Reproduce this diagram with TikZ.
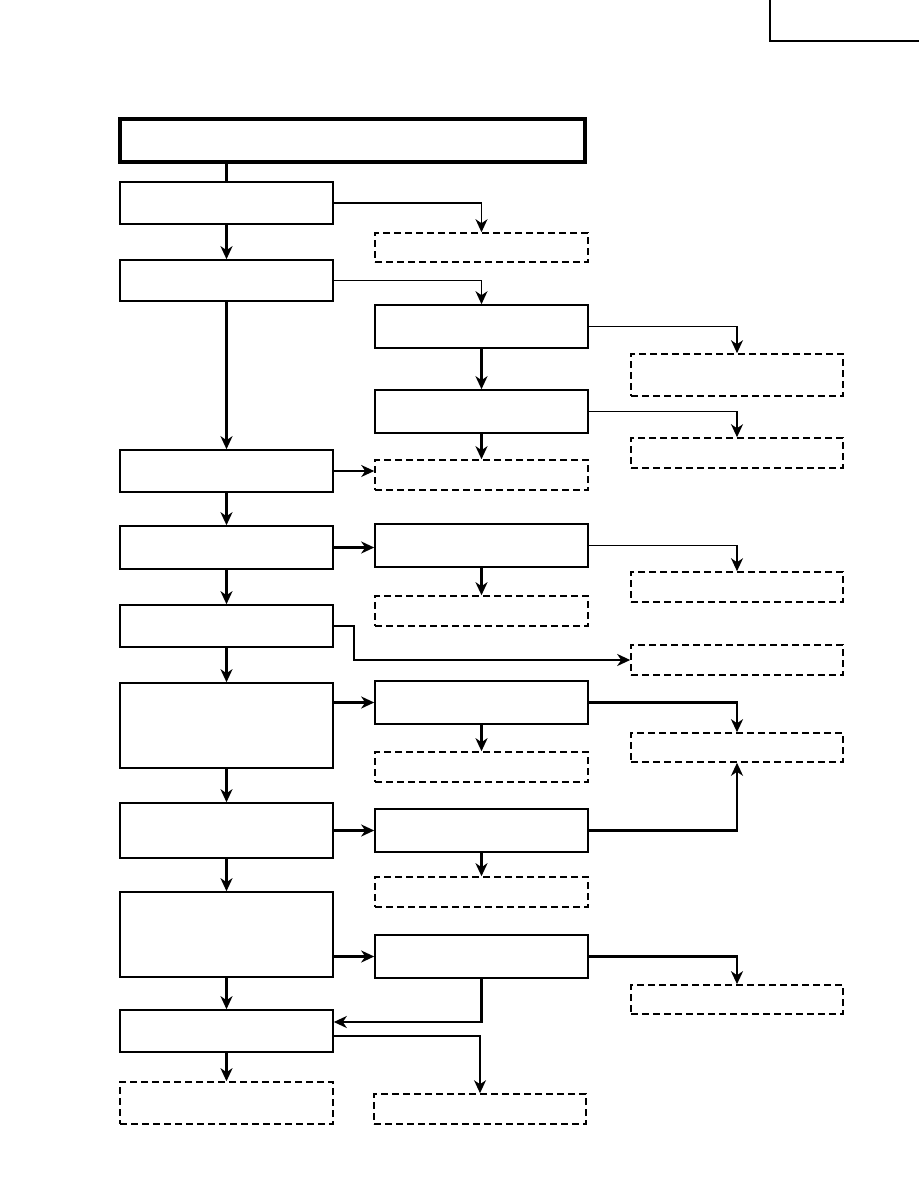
\documentclass[tikz,border=0pt]{standalone}
\usepackage{tikz}
\usetikzlibrary{arrows.meta, positioning, calc}
\tikzstyle{stepbox} = [rectangle, minimum width=213pt, inner sep=0pt, draw=black, line width=1.6pt]
\tikzstyle{notebox} = [rectangle, minimum width=212pt, inner sep=0pt, draw=black, line width=1.6pt,
                       dash pattern=on 7pt off 4pt]
\tikzstyle{titlebox} = [rectangle, minimum width=465pt, minimum height=43pt, inner sep=0pt, draw=black, line width=3.4pt]
\tikzstyle{arrow} = [-{Stealth[length=13pt, width=12pt, inset=4pt]}, line width=2.2pt]
\tikzstyle{thinarrow} = [-{Stealth[length=13pt, width=12pt, inset=4pt]}, line width=1.3pt]

\begin{document}
\begin{tikzpicture}[x=1pt, y=-1pt]
\useasboundingbox (0,0) rectangle (918,1188);

% Page corner
\node[rectangle, minimum width=150pt, minimum height=46pt, draw=black, line width=1.8pt] (pageref) at (845,18) {};

% Title
\node[titlebox] (title) at (352.5,140.5) {};

% Left column
\node[stepbox, minimum height=42pt] (L1) at (226.5,203) {};
\node[stepbox, minimum height=41pt] (L2) at (226.5,280.5) {};
\node[stepbox, minimum height=42pt] (L3) at (226.5,471) {};
\node[stepbox, minimum height=43pt] (L4) at (226.5,547.5) {};
\node[stepbox, minimum height=42pt] (L5) at (226.5,626) {};
\node[stepbox, minimum height=85pt] (L6) at (226.5,725.5) {};
\node[stepbox, minimum height=55pt] (L7) at (226.5,830.5) {};
\node[stepbox, minimum height=85pt] (L8) at (226.5,934.5) {};
\node[stepbox, minimum height=42pt] (L9) at (226.5,1031) {};
\node[notebox, minimum height=42pt, minimum width=213pt] (L10) at (226.5,1103) {};

% Middle column
\node[notebox, minimum height=29pt, minimum width=213pt] (M1) at (481.5,247.5) {};
\node[stepbox, minimum height=43pt] (M2) at (481.5,326.5) {};
\node[stepbox, minimum height=43pt] (M3) at (481.5,411.5) {};
\node[notebox, minimum height=30pt, minimum width=213pt] (M4) at (481.5,475) {};
\node[stepbox, minimum height=43pt] (M5) at (481.5,545.5) {};
\node[notebox, minimum height=30pt, minimum width=213pt] (M6) at (481.5,611) {};
\node[stepbox, minimum height=43pt] (M7) at (481.5,702.5) {};
\node[notebox, minimum height=30pt, minimum width=213pt] (M8) at (481.5,767) {};
\node[stepbox, minimum height=43pt] (M9) at (481.5,830.5) {};
\node[notebox, minimum height=30pt, minimum width=213pt] (M10) at (481.5,892) {};
\node[stepbox, minimum height=43pt] (M11) at (481.5,956.5) {};
\node[notebox, minimum height=30pt] (M12) at (480,1109) {};

% Right column
\node[notebox, minimum height=42pt] (R1) at (737,375) {};
\node[notebox, minimum height=30pt] (R2) at (737,453) {};
\node[notebox, minimum height=30pt] (R3) at (737,587) {};
\node[notebox, minimum height=30pt] (R4) at (737,660) {};
\node[notebox, minimum height=29pt] (R5) at (737,747.5) {};
\node[notebox, minimum height=29pt] (R6) at (737,999.5) {};

% Main flow
\draw[line width=2.2pt] (L1.north |- title.south) -- (L1.north);
\draw[arrow] (L1) -- (L2);
\draw[arrow] (L2) -- (L3);
\draw[arrow] (L3) -- (L4);
\draw[arrow] (L4) -- (L5);
\draw[arrow] (L5) -- (L6);
\draw[arrow] (L6) -- (L7);
\draw[arrow] (L7) -- (L8);
\draw[arrow] (L8) -- (L9);
\draw[arrow] (L9) -- (L10);

% Branches to the middle
\draw[thinarrow] (L1.east) -| (M1.north);
\draw[thinarrow] (L2.east) -| (M2.north);
\draw[thinarrow] (L3.east) -- (L3.east -| M4.west);
\draw[arrow] (L4.east) -- (L4.east -| M5.west);
\draw[arrow] (M7.west -| L6.east) -- (M7.west);
\draw[arrow] (L7.east) -- (M9.west);
\draw[arrow] (M11.west -| L8.east) -- (M11.west);
\draw[thinarrow] ([yshift=-5pt]L9.east) -| (M12.north);

% Middle column arrows
\draw[arrow] (M2) -- (M3);
\draw[arrow] (M3) -- (M4);
\draw[arrow] (M5) -- (M6);
\draw[arrow] (M7) -- (M8);
\draw[arrow] (M9) -- (M10);
\draw[arrow] (M11.south) |- ([yshift=9pt]L9.east);

% Branches to the right
\draw[thinarrow] (M2.east) -| (R1.north);
\draw[thinarrow] (M3.east) -| (R2.north);
\draw[thinarrow] (M5.east) -| (R3.north);
\draw[arrow] (L5.east) -- ++(20,0) |- (R4.west);
\draw[arrow] (M7.east) -| (R5.north);
\draw[arrow] (M9.east) -| (R5.south);
\draw[arrow] (M11.east) -| (R6.north);

\end{tikzpicture}
\end{document}
